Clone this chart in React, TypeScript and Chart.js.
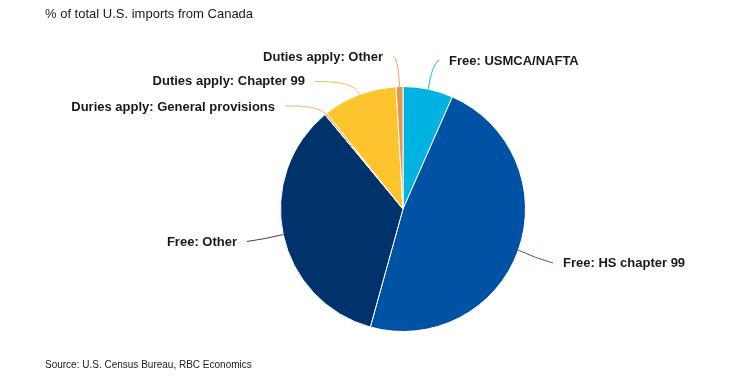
import React, { useEffect, useRef } from "react";
import { Chart, registerables } from "chart.js";

Chart.register(...registerables);

const categories = [
  "Free: USMCA/NAFTA",
  "Free: HS chapter 99",
  "Free: Other",
  "Duries apply: General provisions",
  "Duties apply: Chapter 99",
  "Duties apply: Other",
];
const shares = [6.6, 47.7, 34.7, 0.3, 9.8, 0.9];
const titleText = "% of total U.S. imports from Canada";
const sourceText = "Source: U.S. Census Bureau, RBC Economics";

const sliceColors = ["#00b3e0", "#0052a5", "#00336b", "#f2a65a", "#fec42d", "#e8944a"];
const lineColors = ["#1fb5e0", "#2e5f9e", "#28466f", "#f0b070", "#f2bf50", "#f0a060"];

// label leader geometry, relative to pie centre (style only)
const labelLayout = [
  { ctrl: [29, -145], end: [36, -149], text: [46, -147.5], align: "left" },
  { ctrl: [132, 49], end: [150, 54], text: [160, 54.5], align: "left" },
  { ctrl: [-138, 30], end: [-156, 32.5], text: [-166, 33], align: "right" },
  { ctrl: [-85, -104], end: [-118, -103], text: [-128, -102], align: "right" },
  { ctrl: [-47, -128], end: [-88, -127.5], text: [-98, -127.5], align: "right" },
  { ctrl: [-5, -152], end: [-10, -152.5], text: [-20, -152], align: "right" },
];

const FONT = '"Liberation Sans", Arial, sans-serif';

const labelPlugin = {
  id: "pieLabels",
  afterDraw(chart: any) {
    const ctx = chart.ctx;
    const meta = chart.getDatasetMeta(0);
    ctx.save();
    meta.data.forEach((arc: any, i: number) => {
      const lay = labelLayout[i];
      const mid = (arc.startAngle + arc.endAngle) / 2;
      const cx = arc.x;
      const cy = arc.y;
      const r = arc.outerRadius;
      const sx = cx + r * Math.cos(mid);
      const sy = cy + r * Math.sin(mid);
      ctx.beginPath();
      ctx.strokeStyle = lineColors[i];
      ctx.lineWidth = 1;
      ctx.moveTo(sx, sy);
      ctx.quadraticCurveTo(cx + lay.ctrl[0], cy + lay.ctrl[1], cx + lay.end[0], cy + lay.end[1]);
      ctx.stroke();
      ctx.fillStyle = "#1a1a1a";
      ctx.font = `bold 13px ${FONT}`;
      ctx.textAlign = lay.align;
      ctx.textBaseline = "middle";
      ctx.fillText(categories[i], cx + lay.text[0], cy + lay.text[1]);
    });
    ctx.fillStyle = "#1a1a1a";
    ctx.textAlign = "left";
    ctx.textBaseline = "middle";
    ctx.font = `13px ${FONT}`;
    ctx.fillText(titleText, 45, 14);
    ctx.font = `10px ${FONT}`;
    ctx.fillText(sourceText, 45, 365);
    ctx.restore();
  },
};

export default function App() {
  const ref = useRef<HTMLCanvasElement | null>(null);
  useEffect(() => {
    document.body.style.margin = "0";
    const canvas = ref.current;
    if (!canvas) return;
    const chart = new Chart(canvas, {
      type: "pie",
      data: {
        labels: categories,
        datasets: [
          {
            data: shares,
            backgroundColor: sliceColors,
            borderColor: "#ffffff",
            borderWidth: 1,
          },
        ],
      },
      options: {
        responsive: false,
        animation: false,
        devicePixelRatio: 1,
        layout: { padding: { top: 86, bottom: 50, left: 280, right: 224 } },
        plugins: {
          legend: { display: false },
          tooltip: { enabled: false },
          title: { display: false },
        },
      },
      plugins: [labelPlugin],
    });
    return () => chart.destroy();
  }, []);
  return (
    <div style={{ width: 750, height: 382, background: "#fff" }}>
      <canvas ref={ref} width={750} height={382} style={{ width: 750, height: 382, display: "block" }} />
    </div>
  );
}
